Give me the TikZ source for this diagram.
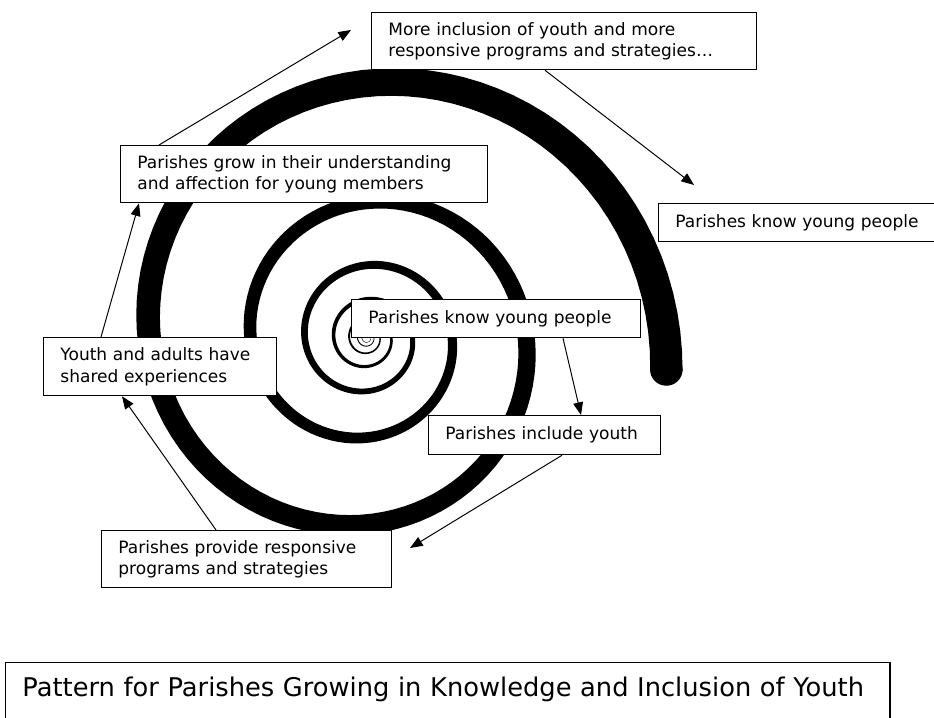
\documentclass[tikz,border=0pt]{standalone}
\usepackage{fontspec}
\setmainfont{DejaVu Sans}
\usetikzlibrary{arrows.meta,calc}
\tikzset{>={Triangle[length=9pt,width=7pt]}}
\tikzset{
    stage/.style 2 args={rectangle,draw,line width=0.9pt,fill=white,anchor=north west,
        align=left,inner xsep=0.42cm,inner ysep=0pt,text width=#1,minimum height=#2,
        font=\fontsize{12.1}{15.3}\selectfont},
    heading/.style={rectangle,draw,line width=0.9pt,fill=white,anchor=north west,
        align=left,inner xsep=0.42cm,inner ysep=0pt,text width=21.26cm,
        text height=0.85cm,text depth=0.7cm,font=\fontsize{18.3}{22}\selectfont},
    directed/.style={->,line width=0.7pt},
    coil/.style={fill=black},
}

\begin{document}
\begin{tikzpicture}[x=0.025cm,y=0.025cm]
    \useasboundingbox (0,0) rectangle (934,717);
    \clip (0,0) rectangle (934,717);

    % the spiral, thickening as it winds outwards
    \begin{scope}[shift={(367,379)}]
        \fill[coil] plot[domain=-6:2514,samples=700] (\x:{1.054*301*exp(-0.001745*(\x+6))})
            -- plot[domain=2514:-6,samples=700] (\x:{0.946*301*exp(-0.001745*(\x+6))}) -- cycle;
        \fill[coil] (-6:301) circle[radius=16.3];
    \end{scope}

    \node[stage={8.775cm}{1.425cm}] (more) at (371,705)
        {More inclusion of youth and more\\responsive programs and strategies…};
    \node[stage={8.325cm}{1.425cm}] (grow) at (120,572)
        {Parishes grow in their understanding\\and affection for young members};
    \node[stage={6.7cm}{0.95cm}] (knowR) at (658,514) {Parishes know young people};
    \node[stage={6.375cm}{0.95cm}] (knowC) at (351,418) {Parishes know young people};
    \node[stage={4.975cm}{1.45cm}] (shared) at (43,380)
        {Youth and adults have\\shared experiences};
    \node[stage={4.95cm}{0.975cm}] (include) at (428,302) {Parishes include youth};
    \node[stage={6.4cm}{1.425cm}] (provide) at (101,187)
        {Parishes provide responsive\\programs and strategies};
    \node[heading] (title) at (5,55)
        {Pattern for Parishes Growing in Knowledge and Inclusion of Youth};

    \coordinate (tipA) at (351,687);
    \coordinate (tipB) at (694,532);
    \coordinate (tipC) at (410,169);

    \draw[directed] ($(grow.north west)+(39,0)$) -- (tipA);
    \draw[directed] ($(more.south west)+(174,0)$) -- (tipB);
    \draw[directed] ($(knowC.south west)+(212,0)$) -- ($(include.north west)+(153,0)$);
    \draw[directed] ($(include.south west)+(134,0)$) -- (tipC);
    \draw[directed] ($(provide.north west)+(115,0)$) -- ($(shared.south west)+(79,0)$);
    \draw[directed] ($(shared.north west)+(58,0)$) -- ($(grow.south west)+(19,0)$);
\end{tikzpicture}
\end{document}
